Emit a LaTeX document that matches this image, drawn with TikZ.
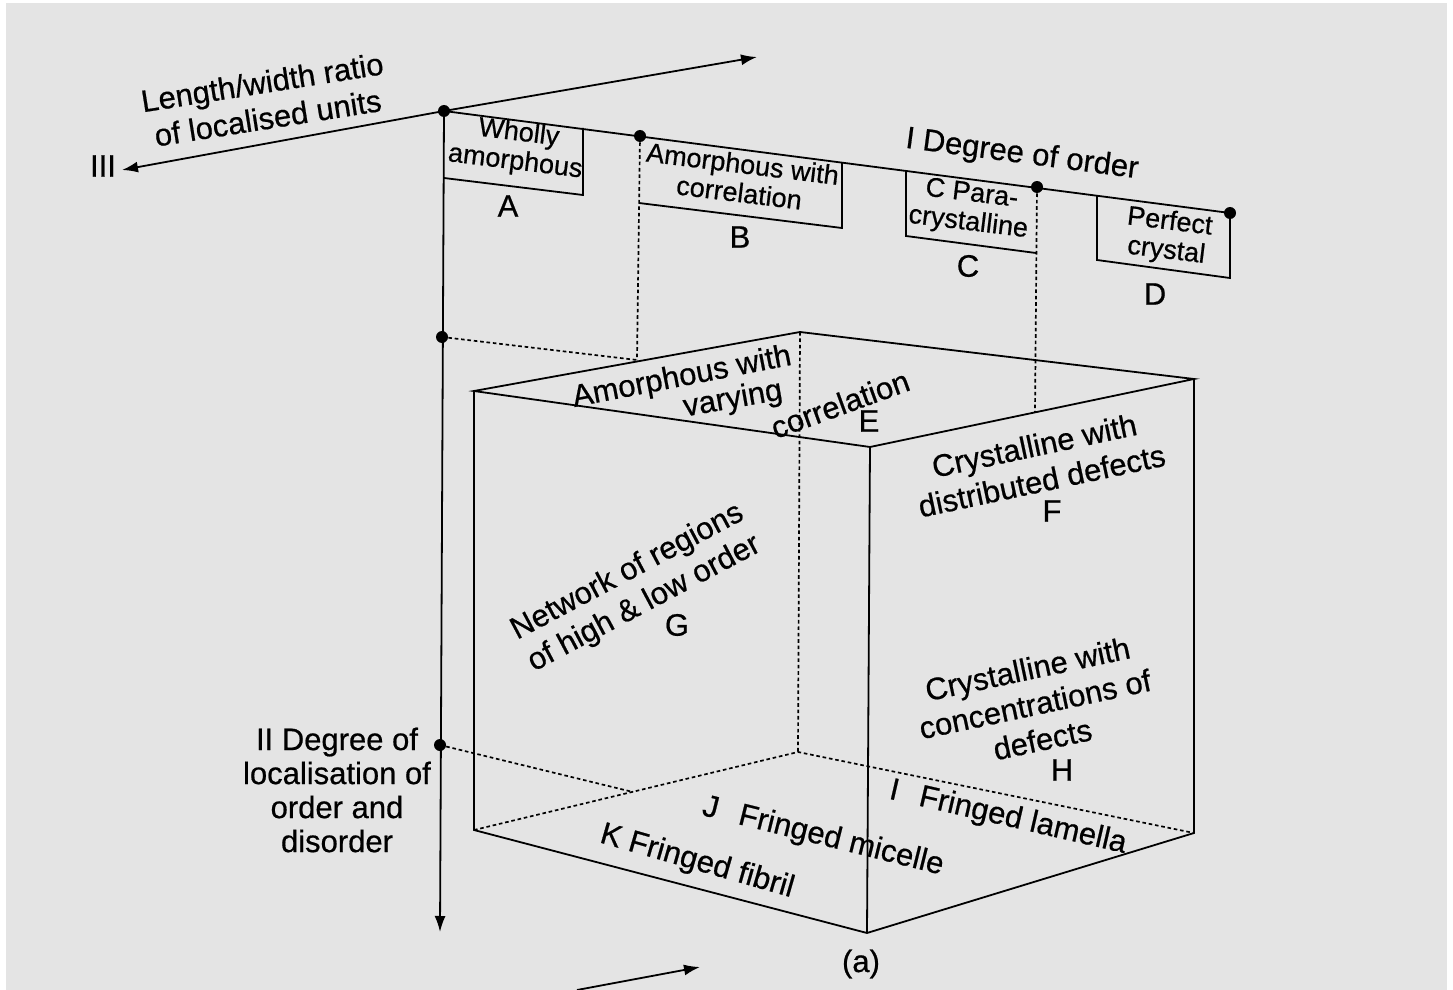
\documentclass[tikz,border=0pt]{standalone}
\usepackage{fontspec}
\setmainfont{Liberation Sans}[FakeBold=0.6]
\usetikzlibrary{arrows.meta}
\definecolor{bgc}{HTML}{E4E4E4}
\begin{document}
\begin{tikzpicture}[x=0.5pt,y=-0.5pt,
  edge/.style={line width=0.9pt, black},
  hid/.style={line width=0.85pt, dash pattern=on 1.8pt off 1.4pt},
  dot/.style={circle, fill=black, inner sep=0pt, minimum size=6pt},
  lab/.style={font=\fontsize{15.5}{18}\selectfont, align=center, inner sep=0pt},
  boxlab/.style={font=\fontsize{13.5}{14.5}\selectfont, align=center, inner sep=0pt},
  arrw/.style={-{Latex[length=8pt,width=5.5pt]}},
]
\useasboundingbox (0,0) rectangle (1453,990);
\fill[white] (0,0) rectangle (1453,990);
\fill[bgc] (6,3) rectangle (1447,990);

% ---- axis points
\node[dot] (O) at (444,111) {};
\node[dot] (Bd) at (640,136) {};
\node[dot] (CDd) at (1037,187) {};
\node[dot] (Dd) at (1230,213) {};
\node[dot] (Ua) at (442,337) {};
\node[dot] (Ub) at (440,745) {};
\coordinate (IIItip) at (122,170);
\coordinate (Rtip) at (757,57);
\coordinate (IIend) at (440,932);

% ---- axes
\draw[edge,arrw] (O.center) -- (IIItip);
\draw[edge,arrw] (O.center) -- (Rtip);
\draw[edge] (O.center) -- (Dd.center);
\draw[edge,arrw] (O.center) -- (IIend);

% ---- flags
\coordinate (A1) at (444,178);
\coordinate (A2) at (583,195);
\coordinate (A3) at (583,128);
\draw[edge] (A1) -- (A2) -- (A3);
\coordinate (B1) at (639,203);
\coordinate (B2) at (842,228);
\coordinate (B3) at (842,163);
\draw[edge] (B1) -- (B2) -- (B3);
\coordinate (C0) at (906,171);
\coordinate (C1) at (906,236);
\coordinate (C2) at (1036,253);
\draw[edge] (C0) -- (C1) -- (C2);
\coordinate (D0) at (1097,196);
\coordinate (D1) at (1097,260);
\coordinate (D2) at (1230,278);
\draw[edge] (D0) -- (D1) -- (D2) -- (Dd.center);

% ---- cube
\coordinate (TL) at (474,391);
\coordinate (TB) at (800,332);
\coordinate (TR) at (1194,379);
\coordinate (TF) at (870,447);
\coordinate (BL) at (474,830);
\coordinate (BB) at (798,752);
\coordinate (BR) at (1194,833);
\coordinate (BF) at (867,933);
\draw[edge] (TL) -- (TB) -- (TR) -- (TF) -- cycle;
\draw[edge] (TL) -- (BL) -- (BF) -- (BR) -- (TR);
\draw[edge] (TF) -- (BF);
\draw[hid] (TB) -- (BB);
\draw[hid] (BL) -- (BB) -- (BR);

% ---- projection lines
\coordinate (Bp) at (637,360);
\coordinate (CDp) at (1035,412);
\coordinate (Uap) at (637,360);
\coordinate (Ubp) at (633,792);
\draw[hid] (Bd.center) -- (Bp);
\draw[hid] (CDd.center) -- (CDp);
\draw[hid] (Ua.center) -- (Uap);
\draw[hid] (Ub.center) -- (Ubp);

% ---- axis labels
\node[lab, rotate=9] (lw) at (265,100) {Length/width ratio\\of localised units};
\node[lab] (III) at (103,166) {III};
\node[lab, rotate=-7.5] (I) at (1022,155) {I Degree of order};
\node[lab, font=\fontsize{15.5}{17}\selectfont] (II) at (337,790) {II Degree of\\localisation of\\order and\\disorder};

% ---- flag labels
\node[boxlab, rotate=-7] (tA) at (517,148) {Wholly\\amorphous};
\node[boxlab, rotate=-7] (tB) at (741,178) {Amorphous with\\correlation};
\node[boxlab, rotate=-7] (tC) at (970,209) {C Para-\\crystalline};
\node[boxlab, rotate=-7] (tD) at (1168,237) {Perfect\\crystal};
\node[lab] (lA) at (508,206) {A};
\node[lab] (lB) at (740,237) {B};
\node[lab] (lC) at (968,266) {C};
\node[lab] (lD) at (1155,294) {D};

% ---- cube labels
\node[lab, rotate=11] (e1) at (682,378) {Amorphous with};
\node[lab, rotate=10] (e2) at (733,400) {varying};
\node[lab, rotate=20] (e3) at (840,404) {correlation};
\node[lab] (e4) at (869,421) {E};
\node[lab, rotate=12] (f1) at (1038,463) {Crystalline with\\distributed defects};
\node[lab] (f2) at (1052,511) {F};
\node[lab, rotate=28] (g1) at (636,588) {Network of regions\\of high \& low order};
\node[lab] (g2) at (677,625) {G};
\node[lab, rotate=12] (h1) at (1035,704) {Crystalline with\\concentrations of\\defects};
\node[lab] (h2) at (1062,770) {H};
\node[lab, rotate=-13] (iL) at (1008,818) {I\hspace{0.7em}Fringed lamella};
\node[lab, rotate=-14] (jL) at (823,837) {J\hspace{0.7em}Fringed micelle};
\node[lab, rotate=-16] (kL) at (697,862) {K Fringed fibril};
\node[lab] (cap) at (861,964) {(a)};

% ---- bottom arrow
\coordinate (ba0) at (577,990);
\coordinate (ba1) at (700,967);
\draw[edge,arrw] (ba0) -- (ba1);
\end{tikzpicture}
\end{document}
